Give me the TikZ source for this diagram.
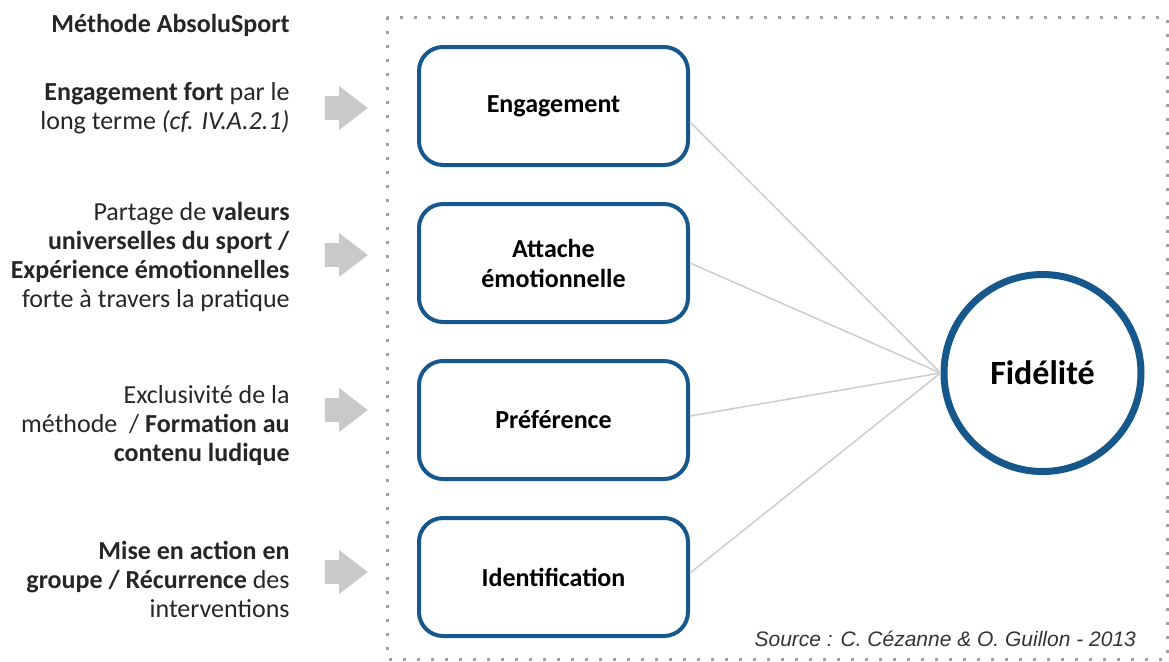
\documentclass[tikz,border=0pt]{standalone}
\usepackage{fontspec}
\setmainfont{Carlito}
\newfontfamily\sourcefont{Liberation Sans}
\usetikzlibrary{positioning,shapes.arrows}
\definecolor{boxblue}{RGB}{22,88,140}
\definecolor{arrowgray}{RGB}{200,201,200}
\definecolor{linkgray}{RGB}{205,205,205}
\definecolor{framegray}{RGB}{160,160,160}
\tikzset{%
  % Specifications for style of nodes:
        base/.style = {rectangle, rounded corners=12pt, draw=boxblue,
                       line width=2pt, minimum width=134.5pt, minimum height=59pt,
                       align=center, font=\bfseries\fontsize{13}{15}\selectfont},
       stage/.style = {base},
        goal/.style = {circle, draw=boxblue, line width=3.5pt, minimum size=98.5pt,
                       font=\bfseries\fontsize{17}{20}\selectfont},
       cause/.style = {anchor=east, align=right, inner sep=0pt, text=black!85,
                       font=\fontsize{13}{14.5}\selectfont},
        push/.style = {single arrow, fill=arrowgray, inner sep=5.75pt,
                       minimum height=21.5pt, single arrow head extend=5pt,
                       single arrow tip angle=75},
        link/.style = {draw=linkgray, line width=0.75pt},
       frame/.style = {draw=framegray, line width=1.5pt, dash pattern=on 1.5pt off 5.5pt}
}

\begin{document}
\begin{tikzpicture}[x=0.5pt, y=-0.5pt, every node/.style={node distance=78.5pt}]
  \useasboundingbox (0,0) rectangle (1169,661);
  \draw[frame] (387,17) rectangle (1167,659);

  \node (engage)  [stage] at (553.5,106) {Engagement};
  \node (attache) [stage, below of=engage]  {Attache\\émotionnelle};
  \node (prefer)  [stage, below of=attache] {Préférence};
  \node (ident)   [stage, below of=prefer]  {Identification};
  \node (fid)     [goal, right of=attache, xshift=166pt, yshift=-55pt] {Fidélité};

  \node (method) [cause, font=\bfseries\fontsize{13}{14.5}\selectfont] at (290,25) {Méthode AbsoluSport};
  \node (why1) [cause] at (290,108) {\textbf{Engagement fort} par le\\long terme \textit{(cf. IV.A.2.1)}};
  \node (why2) [cause] at (290,257) {Partage de \textbf{valeurs}\\\textbf{universelles du sport /}\\\textbf{Expérience émotionnelles}\\forte à travers la pratique};
  \node (why3) [cause] at (290,426) {Exclusivité de la\\méthode~ / \textbf{Formation au}\\\textbf{contenu ludique}};
  \node (why4) [cause] at (290,579) {\textbf{Mise en action en}\\\textbf{groupe / Récurrence} des\\interventions};

  \node (push1) [push] at (338.5,108) {};
  \node (push2) [push] at (338.5,255) {};
  \node (push3) [push] at (338.5,410) {};
  \node (push4) [push] at (338.5,572) {};

  \node (source) [anchor=east, text=black!80, font=\sourcefont\itshape\fontsize{10.5}{12}\selectfont]
    at (1143,639) {Source : C. Cézanne \& O. Guillon - 2013};

  \draw[link] ([yshift=-8pt]engage.east) -- (fid.west);
  \draw[link] (attache.east) -- (fid.west);
  \draw[link] ([yshift=2pt]prefer.east) -- (fid.west);
  \draw[link] ([yshift=2pt]ident.east) -- (fid.west);
\end{tikzpicture}
\end{document}
